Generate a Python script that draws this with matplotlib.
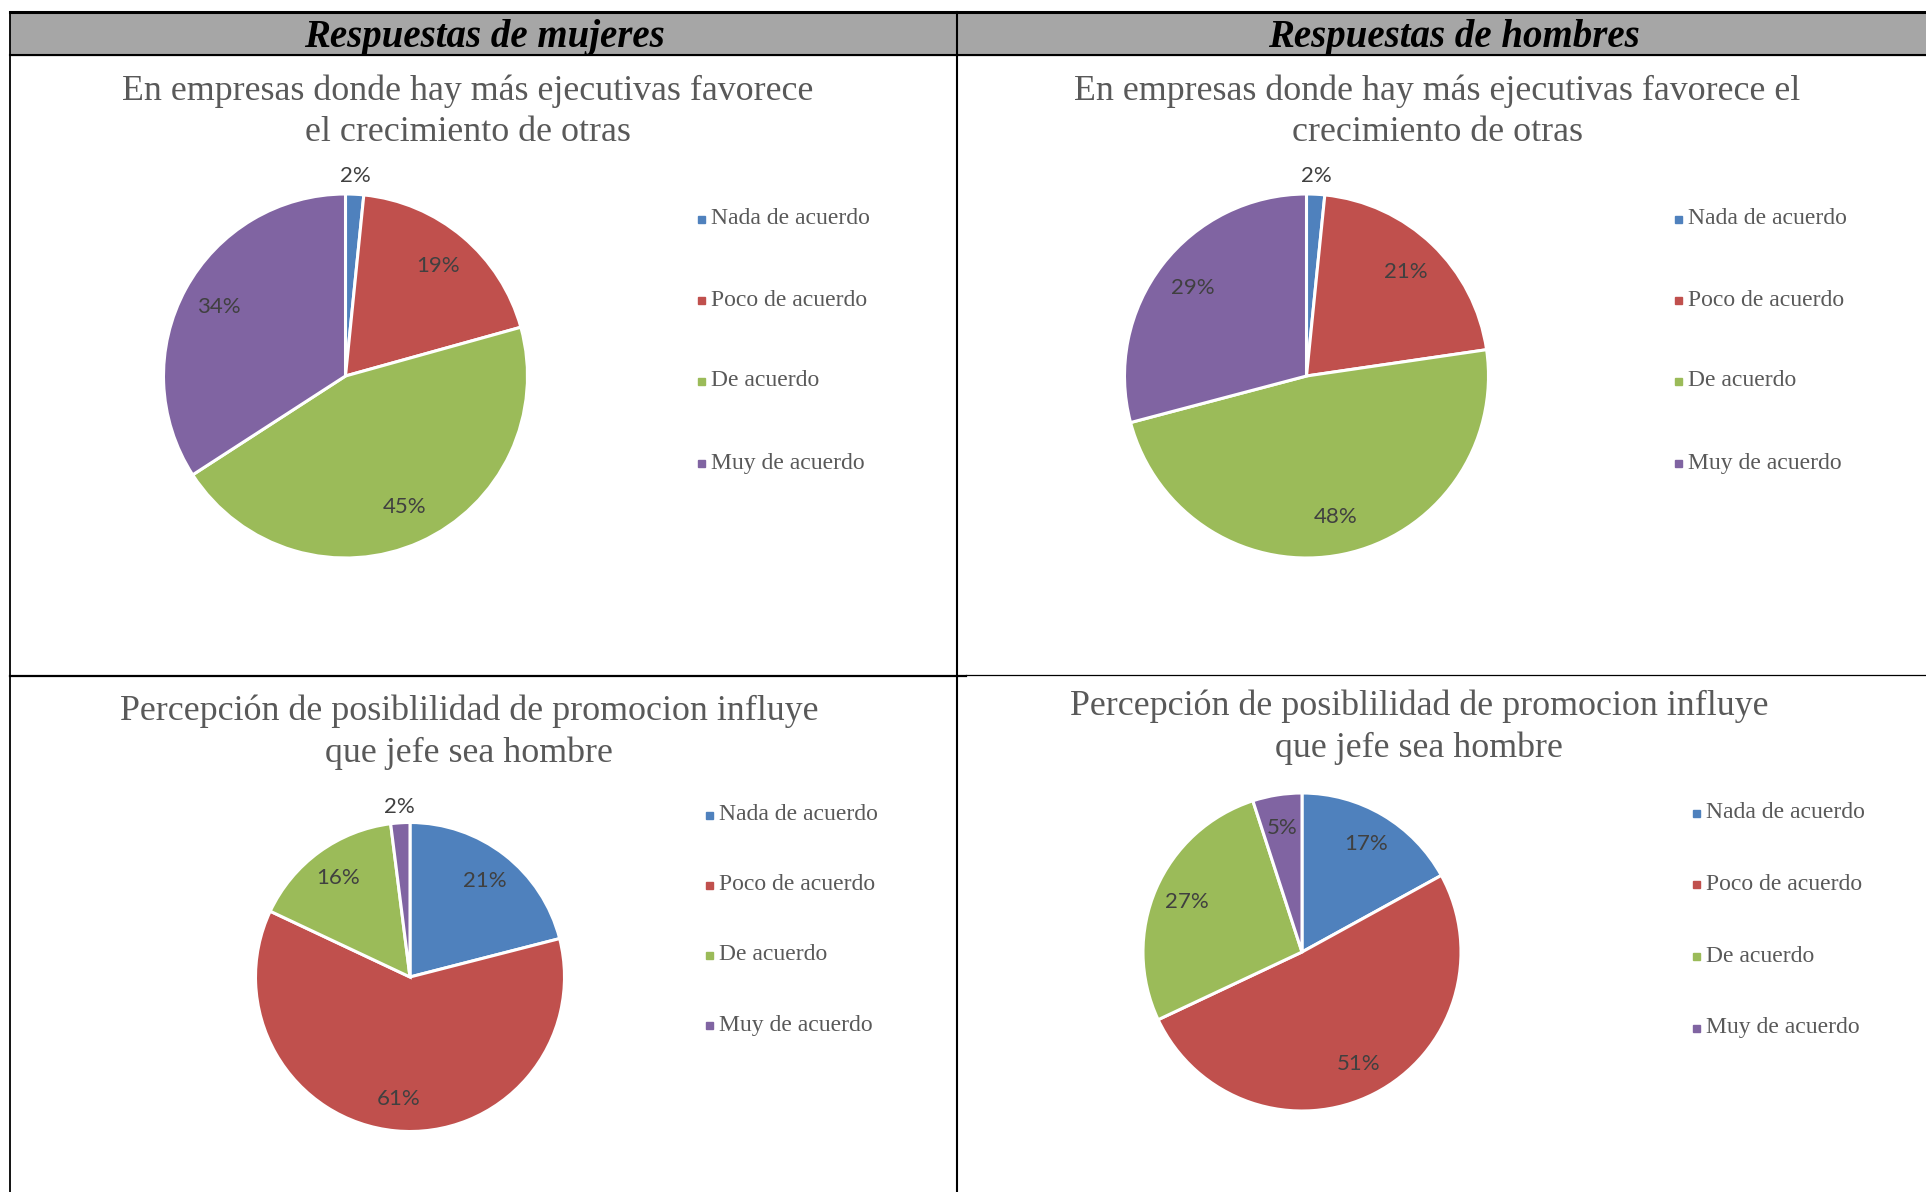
import numpy as np
import matplotlib
matplotlib.use('Agg')
import matplotlib.pyplot as plt
from matplotlib.patches import Rectangle


# data (percent)
categories = ['Nada de acuerdo', 'Poco de acuerdo', 'De acuerdo', 'Muy de acuerdo']
mujeres_ejecutivas = [1.6, 19, 45, 34]
hombres_ejecutivas = [1.6, 21, 48, 29]
mujeres_promocion = [21, 61, 16, 2]
hombres_promocion = [17, 51, 27, 5]

headers = ['Respuestas de mujeres', 'Respuestas de hombres']
title_ejecutivas = ['En empresas donde hay más ejecutivas favorece\nel crecimiento de otras',
                    'En empresas donde hay más ejecutivas favorece el\ncrecimiento de otras']
title_promocion = 'Percepción de posiblilidad de promocion influye\nque jefe sea hombre'

colors = ['#4F81BD', '#C0504D', '#9BBB59', '#8064A2']
W, H = 1926, 1192

fig = plt.figure(figsize=(W / 100, H / 100), dpi=100)

# table background (pixel coords, y down)
bg = fig.add_axes([0, 0, 1, 1])
bg.set_xlim(0, W)
bg.set_ylim(H, 0)
bg.axis('off')
bg.add_patch(Rectangle((10, 12), W - 10, 43, color='#A6A6A6', zorder=0))
bg.plot([10, W], [12, 12], color='black', lw=2.2)
bg.plot([10, W], [55, 55], color='black', lw=1.5)
bg.plot([10, 10], [12, H], color='black', lw=1.3)
bg.plot([957, 957], [12, H], color='black', lw=1.5)
bg.plot([10, 966], [676, 676], color='black', lw=1.6)
bg.plot([966, W], [675, 675], color='black', lw=0.9)

bg.text(484, 37, headers[0], ha='center', va='center', fontsize=28,
        family='Liberation Serif', weight='bold', style='italic', color='black')
bg.text(1454, 37, headers[1], ha='center', va='center', fontsize=28,
        family='Liberation Serif', weight='bold', style='italic', color='black')


def pie_panel(values, cx, cy, r, title, tx, ty, lx, ly):
    ax = fig.add_axes([(cx - 1.25 * r) / W, (H - cy - 1.25 * r) / H,
                       2.5 * r / W, 2.5 * r / H])
    wedges, texts, autotexts = ax.pie(
        values, colors=colors, startangle=90, counterclock=False,
        autopct='%.0f%%', pctdistance=0.79,
        wedgeprops=dict(edgecolor='white', linewidth=2.2),
        textprops=dict(family='Lato', fontsize=16, color='#404040'))
    total = sum(values)
    for w, at, v in zip(wedges, autotexts, values):
        if v / total < 0.03:
            th = np.deg2rad((w.theta1 + w.theta2) / 2)
            at.set_position((1.10 * np.cos(th), 1.10 * np.sin(th)))
    ax.set_xlim(-1.25, 1.25)
    ax.set_ylim(-1.25, 1.25)
    ax.axis('off')

    bg.text(tx, ty, title, ha='center', va='center', fontsize=25.8,
            family='Liberation Serif', color='#595959', linespacing=1.33)

    for i, (name, c) in enumerate(zip(categories, colors)):
        y = ly[i]
        bg.add_patch(Rectangle((lx - 3.5, y - 3.5), 7, 7, color=c))
        bg.text(lx + 10, y, name, ha='left', va='center', fontsize=17,
                family='Liberation Serif', color='#595959')


rows_top = [219, 300, 381, 463]
pie_panel(mujeres_ejecutivas, 345.5, 376, 182, title_ejecutivas[0], 468, 111.5, 701, rows_top)
pie_panel(hombres_ejecutivas, 1306.5, 376, 182, title_ejecutivas[1], 1437, 111.5, 1678, rows_top)
pie_panel(mujeres_promocion, 410, 977, 154.5, title_promocion, 469, 732, 709,
          [815, 885, 955, 1025])
pie_panel(hombres_promocion, 1302, 952, 159, title_promocion, 1419, 727, 1696,
          [813, 884, 956, 1028])

fig.savefig('out.png', dpi=100, facecolor='white')
